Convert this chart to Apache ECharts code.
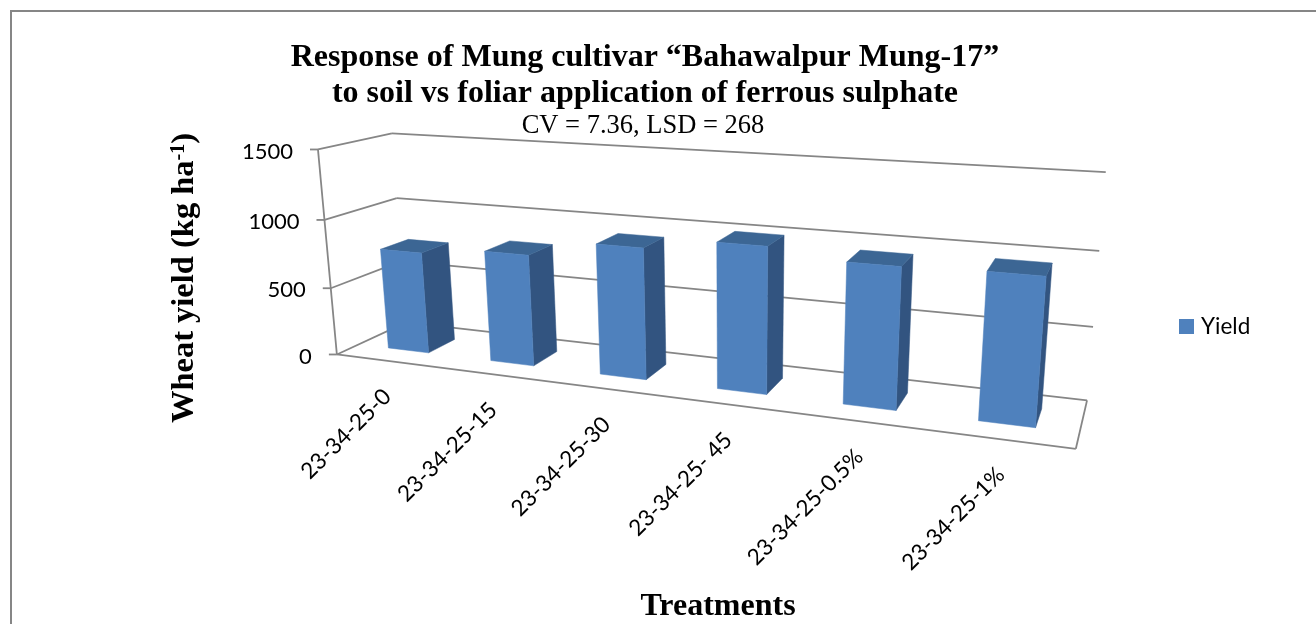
<!DOCTYPE html>
<html>
<head>
<meta charset="utf-8">
<style>html,body{margin:0;padding:0;background:#fff}#c{width:1316px;height:624px}</style>
<script src="https://cdn.jsdelivr.net/npm/echarts@6/dist/echarts.min.js"></script>
</head>
<body>
<div id="c"></div>
<script>
const categories = ['23-34-25-0','23-34-25-15','23-34-25-30','23-34-25- 45','23-34-25-0.5%','23-34-25-1%'];
const yieldValues = [750,805,925,1005,945,960];
const yTicks = [0,500,1000,1500];
const seriesName = 'Yield';
const titleText = 'Response of Mung cultivar “Bahawalpur Mung-17”\nto soil vs foliar application of ferrous sulphate';
const subText = 'CV = 7.36, LSD = 268';
const xName = 'Treatments';

// Camera calibration of the 3D box: [u (0-1 along categories), v (0 front - 1 back), w (0-1 of value axis), screen x, screen y]
const camera = [
  [0,0,0,336,354],[0,0,1/3,331,288],[0,0,2/3,325,220],[0,0,1,318,150],
  [0,1,0,407,323],[0,1,2/3,396,198],[0,1,1,392,133],
  [1,1,0,1087,400],[1,1,1/3,1093,327],[1,1,2/3,1099,251],[1,1,1,1106,172],
  [1,0,0,1076,449]
];
function solve(A,b){
  const n=b.length,M=A.map((r,i)=>r.concat(b[i]));
  for(let c=0;c<n;c++){
    let p=c;for(let r=c+1;r<n;r++)if(Math.abs(M[r][c])>Math.abs(M[p][c]))p=r;
    [M[c],M[p]]=[M[p],M[c]];
    for(let r=0;r<n;r++){if(r===c)continue;const f=M[r][c]/M[c][c];for(let k=c;k<=n;k++)M[r][k]-=f*M[c][k];}
  }
  return M.map((r,i)=>r[n]/r[i]);
}
function fitCamera(pts){
  const rows=[],rhs=[];
  pts.forEach(([u,v,w,x,y])=>{
    const X=x/1000,Y=y/1000;
    rows.push([u,v,w,1,0,0,0,0,-X*u,-X*v,-X*w]);rhs.push(X);
    rows.push([0,0,0,0,u,v,w,1,-Y*u,-Y*v,-Y*w]);rhs.push(Y);
  });
  const N=Array.from({length:11},()=>new Array(11).fill(0)),B=new Array(11).fill(0);
  rows.forEach((r,k)=>{for(let i=0;i<11;i++){B[i]+=r[i]*rhs[k];for(let j=0;j<11;j++)N[i][j]+=r[i]*r[j];}});
  return solve(N,B);
}
const P=fitCamera(camera);
function proj(u,v,w){
  const d=P[8]*u+P[9]*v+P[10]*w+1;
  return [1000*(P[0]*u+P[1]*v+P[2]*w+P[3])/d,1000*(P[4]*u+P[5]*v+P[6]*w+P[7])/d];
}
const GRID='#868686', FRONT='#4F81BD', SIDE='#325480', TOP='#3C6694';
const BAR_GAP=0.3;        // gap on each side of a bar, as a share of a category band
const SANS='Lato', SERIF='"Liberation Serif"';

function line(a,b){return {type:'line',shape:{x1:a[0],y1:a[1],x2:b[0],y2:b[1]},style:{stroke:GRID,lineWidth:1.8},silent:true};}
function poly(pts,fill){return {type:'polygon',shape:{points:pts},style:{fill:fill,stroke:fill,lineWidth:0.5},silent:true};}

function renderFrame(params,api){
  const r=params.coordSys, ch=[];
  const wOf=t=>(r.y+r.height-api.coord([0,t])[1])/r.height;
  yTicks.forEach(t=>{
    const w=wOf(t),f=proj(0,0,w),b=proj(0,1,w),e=proj(1,1,w);
    ch.push(line(f,b),line(b,e),line([f[0]-8,f[1]],f));
    ch.push({type:'text',x:f[0]-25,y:f[1]+2,silent:true,style:{text:String(t),align:'right',verticalAlign:'middle',fontFamily:SANS,fontSize:22,fill:'#000'}});
  });
  ch.push(line(proj(0,0,0),proj(0,0,1)));
  ch.push(line(proj(0,0,0),proj(1,0,0)),line(proj(1,0,0),proj(1,1,0)));
  categories.forEach((c,i)=>{
    const u=(api.coord([i,0])[0]-r.x)/r.width;
    const p=proj(u,0,0);
    ch.push({type:'text',x:p[0],y:p[1]+32,rotation:Math.PI/4,silent:true,style:{text:c,align:'right',verticalAlign:'middle',fontFamily:SANS,fontSize:22.5,fill:'#000'}});
  });
  return {type:'group',children:ch};
}
function renderBar(params,api){
  const r=params.coordSys;
  const c=api.coord([api.value(0),api.value(1)]);
  const bw=api.size([1,0])[0]/r.width;
  const uc=(c[0]-r.x)/r.width, w=(r.y+r.height-c[1])/r.height;
  const u0=uc-bw*(0.5-BAR_GAP), u1=uc+bw*(0.5-BAR_GAP), v0=BAR_GAP, v1=1-BAR_GAP;
  return {type:'group',children:[
    poly([proj(u1,v0,0),proj(u1,v1,0),proj(u1,v1,w),proj(u1,v0,w)],SIDE),
    poly([proj(u0,v0,w),proj(u1,v0,w),proj(u1,v1,w),proj(u0,v1,w)],TOP),
    poly([proj(u0,v0,0),proj(u1,v0,0),proj(u1,v0,w),proj(u0,v0,w)],FRONT)
  ]};
}
const chart=echarts.init(document.getElementById('c'),null,{renderer:'canvas'});
chart.setOption({
  animation:false,
  backgroundColor:'#fff',
  title:[
    {text:titleText,left:640,top:35,textAlign:'center',textStyle:{fontFamily:SERIF,fontWeight:'bold',fontSize:32,lineHeight:36,color:'#000'}},
    {text:subText,left:638,top:108,textAlign:'center',textStyle:{fontFamily:SERIF,fontWeight:'normal',fontSize:26.5,color:'#000'}},
    {text:xName,left:713,top:586,textAlign:'center',textStyle:{fontFamily:SERIF,fontWeight:'bold',fontSize:32,color:'#000'}}
  ],
  legend:{data:[seriesName],left:1174,top:310,itemWidth:15,itemHeight:15,itemGap:6,icon:'rect',selectedMode:false,textStyle:{fontFamily:SANS,fontSize:22.5,color:'#000',padding:[0,0,0,2]}},
  grid:{left:100,right:100,top:100,bottom:100,show:false},
  xAxis:{type:'category',data:categories,show:false},
  yAxis:{type:'value',min:0,max:1500,interval:500,show:false},
  graphic:[
    {type:'polyline',silent:true,shape:{points:[[1316,11],[11,11],[11,624]]},style:{stroke:GRID,lineWidth:2,fill:null}},
    {type:'text',x:185,y:278,rotation:Math.PI/2,silent:true,style:{
      text:'{a|Wheat yield (kg ha}{s|-1}{a|)}',align:'center',verticalAlign:'middle',
      rich:{a:{fontFamily:SERIF,fontWeight:'bold',fontSize:32.5,fill:'#000',verticalAlign:'bottom'},s:{fontFamily:SERIF,fontWeight:'bold',fontSize:20,fill:'#000',verticalAlign:'top'}}
    }}
  ],
  series:[
    {type:'custom',name:'frame',coordinateSystem:'cartesian2d',z:1,silent:true,clip:false,data:[[0,0]],renderItem:renderFrame,encode:{x:0,y:1}},
    {type:'custom',name:seriesName,coordinateSystem:'cartesian2d',z:2,silent:true,clip:false,itemStyle:{color:FRONT},
     data:yieldValues.map((v,i)=>[i,v]),renderItem:renderBar,encode:{x:0,y:1}}
  ]
});
</script>
</body>
</html>
